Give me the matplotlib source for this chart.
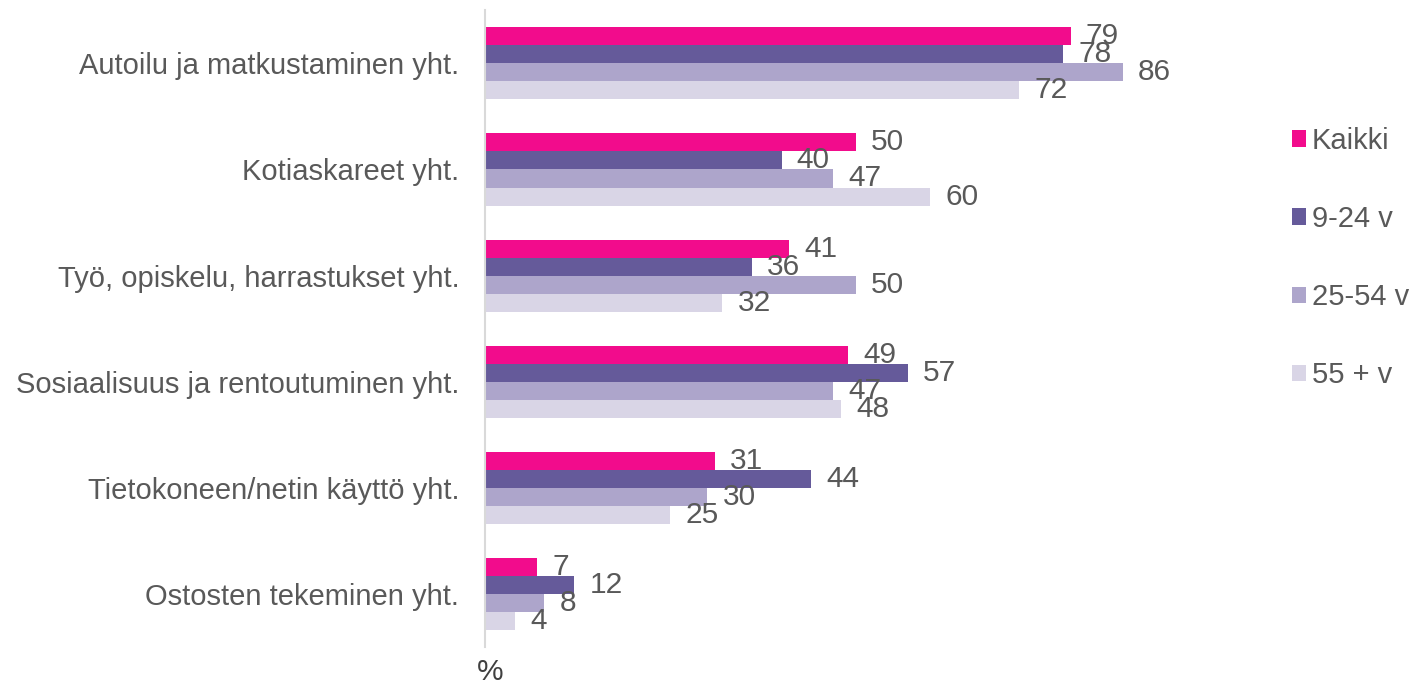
import numpy as np
import matplotlib.pyplot as plt

plt.rcParams['font.family'] = ['Liberation Sans', 'DejaVu Sans']

categories = ['Autoilu ja matkustaminen yht.', 'Kotiaskareet yht.',
              'Työ, opiskelu, harrastukset yht.', 'Sosiaalisuus ja rentoutuminen yht.',
              'Tietokoneen/netin käyttö yht.', 'Ostosten tekeminen yht.']
series = ['Kaikki', '9-24 v', '25-54 v', '55 + v']
kaikki = [79, 50, 41, 49, 31, 7]
v9_24 = [78, 40, 36, 57, 44, 12]
v25_54 = [86, 47, 50, 47, 30, 8]
v55 = [72, 60, 32, 48, 25, 4]
colors = ['#F20C8C', '#655A9A', '#ADA5CB', '#D9D5E6']

fig = plt.figure(figsize=(14.12, 6.84), dpi=100)
ax = fig.add_axes([0.3435, 0.054, 0.525, 0.931])

y = np.arange(len(categories))
h = 0.17
text_col = '#595959'
for i, (vals, name) in enumerate(zip([kaikki, v9_24, v25_54, v55], series)):
    pos = y + (i - 1.5) * h
    ax.barh(pos, vals, height=h, color=colors[i], label=name)
    for p, v in zip(pos, vals):
        ax.annotate(str(v), (v, p), xytext=(11, 0), textcoords='offset points',
                    ha='left', va='center', fontsize=21.5, color=text_col)

ax.set_xlim(0, 100)
ax.set_ylim(len(categories) - 0.5, -0.5)
ax.set_yticks(y)
ax.set_yticklabels(categories, fontsize=21, color=text_col)
ax.tick_params(left=False, bottom=False, labelbottom=False, pad=15)
for s in ['top', 'right', 'bottom']:
    ax.spines[s].set_visible(False)
ax.spines['left'].set_color('#D9D9D9')
ax.spines['left'].set_linewidth(1.5)

fig.text(477 / 1412, 1 - 672 / 684, '%', fontsize=21.5, color='#404040', ha='left', va='center')

fig.legend(loc='center left', bbox_to_anchor=(1292 / 1412, 1 - 258 / 684), frameon=False,
           fontsize=21, labelspacing=1.72, handlelength=0.48, handleheight=0.48,
           handletextpad=0.2, borderpad=0, borderaxespad=0, labelcolor=text_col)

fig.savefig('out.png', dpi=100)
